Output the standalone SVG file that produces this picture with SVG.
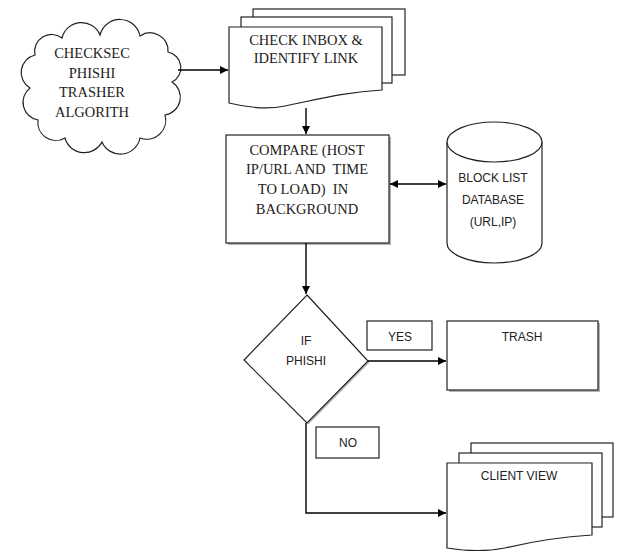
<svg xmlns="http://www.w3.org/2000/svg" width="617" height="551" viewBox="0 0 617 551">
<style>
.s{fill:#fff;stroke:#222;stroke-width:1.2}
.sh{fill:#b4b4b4;stroke:none}
.c{fill:none;stroke:#000;stroke-width:1.4}
.tm{font-family:"Liberation Serif","Times New Roman",serif;font-size:14.5px;fill:#222;text-anchor:middle}
.ts{font-family:"Liberation Sans",Arial,sans-serif;font-size:12px;fill:#222;text-anchor:middle}
</style>
<defs>
<marker id="ah" viewBox="0 0 10 10" refX="10" refY="5" markerWidth="8" markerHeight="8" markerUnits="userSpaceOnUse" orient="auto-start-reverse">
<path d="M0,0 L10,5 L0,10 Z" fill="#000"/>
</marker>
</defs>
<rect width="617" height="551" fill="#fff"/>

<g id="cloud">
<path class="s" d="M35,55 A17,17 0 0 1 62,38 A20,20 0 0 1 100,35 A20.5,20.5 0 0 1 140,36 A18,18 0 0 1 168,52 A16,16 0 0 1 172,82 A18,18 0 0 1 165,115 A19,19 0 0 1 140,138 A20,20 0 0 1 102,142 A20,20 0 0 1 65,138 A18,18 0 0 1 38,120 A18,18 0 0 1 30,88 A18,18 0 0 1 35,55 Z"/>
<text class="tm" x="92" y="58">CHECKSEC</text>
<text class="tm" x="92" y="78">PHISHI</text>
<text class="tm" x="92" y="97">TRASHER</text>
<text class="tm" x="92" y="117">ALGORITH</text>
</g>

<g id="check-inbox">
<rect class="s" x="253" y="9" width="152" height="66"/>
<rect class="s" x="241" y="17" width="151" height="66"/>
<path class="s" d="M229,27 H382 V90 C345,92 315,100 285,106 C265,110 245,107 229,103 Z"/>
<text class="tm" x="306" y="45">CHECK INBOX &amp;</text>
<text class="tm" x="306" y="63">IDENTIFY LINK</text>
</g>

<g id="compare">
<rect class="sh" x="228" y="137" width="163" height="108"/>
<rect class="s" x="226" y="135" width="163" height="108"/>
<text class="tm" x="307" y="155">COMPARE (HOST</text>
<text class="tm" x="307" y="174" xml:space="preserve">IP/URL AND  TIME</text>
<text class="tm" x="303" y="194" xml:space="preserve">TO LOAD)  IN</text>
<text class="tm" x="307" y="214">BACKGROUND</text>
</g>

<g id="database">
<path class="s" d="M447,142 V243 A47.5,20 0 0 0 542,243 V142"/>
<ellipse class="s" cx="494.5" cy="142" rx="47.5" ry="20"/>
<text class="ts" x="493" y="182">BLOCK LIST</text>
<text class="ts" x="493" y="204">DATABASE</text>
<text class="ts" x="493" y="226">(URL,IP)</text>
</g>

<g id="decision">
<polygon class="sh" points="308.5,296.5 369.5,362.5 308.5,424.5 245.5,361.5"/>
<polygon class="s" points="307,295 368,361 307,423 244,360"/>
<text class="ts" x="306" y="345">IF</text>
<text class="ts" x="306" y="365">PHISHI</text>
</g>

<g id="yes-label">
<rect class="s" x="367" y="321" width="65" height="29"/>
<text class="ts" x="400" y="341">YES</text>
</g>

<g id="trash">
<rect class="sh" x="449" y="323" width="151" height="69"/>
<rect class="s" x="447" y="321" width="151" height="69"/>
<text class="ts" x="522" y="341">TRASH</text>
</g>

<g id="no-label">
<rect class="s" x="316" y="427" width="63" height="31"/>
<text class="ts" x="348" y="447">NO</text>
</g>

<g id="client-view">
<rect class="s" x="471" y="443" width="142" height="74"/>
<rect class="s" x="459" y="453" width="143" height="74"/>
<path class="s" d="M447,463 H592 V535 C560,537 530,542 505,548 C485,552 465,551 447,548 Z"/>
<text class="ts" x="519" y="480">CLIENT VIEW</text>
</g>

<g id="connectors">
<line class="c" x1="178" y1="70" x2="228" y2="70" marker-end="url(#ah)"/>
<line class="c" x1="306" y1="108" x2="306" y2="134" marker-end="url(#ah)"/>
<line class="c" x1="390" y1="184" x2="446" y2="184" marker-start="url(#ah)" marker-end="url(#ah)"/>
<line class="c" x1="306" y1="243" x2="306" y2="294" marker-end="url(#ah)"/>
<line class="c" x1="368" y1="361" x2="446" y2="361" marker-end="url(#ah)"/>
<path class="c" d="M306,423 V513 H446" marker-end="url(#ah)"/>
</g>
</svg>
